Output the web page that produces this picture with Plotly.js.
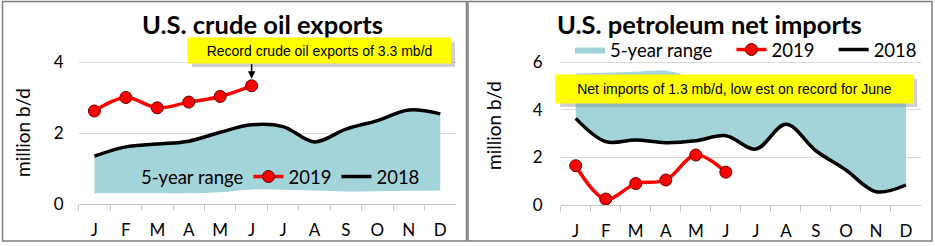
<!DOCTYPE html>
<html>
<head>
<meta charset="utf-8">
<script src="https://cdn.plot.ly/plotly-3.0.1.min.js"></script>
<style>html,body{margin:0;padding:0;background:#fff;}#chart{width:935px;height:246px;}</style>
</head>
<body>
<div id="chart"></div>
<script>
// ---- data ----
const months = ['Jan','Feb','Mar','Apr','May','Jun','Jul','Aug','Sep','Oct','Nov','Dec'];
const monthLabels = ['J','F','M','A','M','J','J','A','S','O','N','D'];
const months2019 = ['Jan','Feb','Mar','Apr','May','Jun'];

// U.S. crude oil exports (million b/d)
const exportsRangeLow = [0.30, 0.30, 0.30, 0.30, 0.33, 0.41, 0.40, 0.38, 0.35, 0.36, 0.37, 0.38];
const exportsRangeHigh = [1.35, 1.61, 1.69, 1.77, 2.02, 2.23, 2.18, 1.75, 2.11, 2.35, 2.65, 2.54];
const exports2018 = [1.35, 1.61, 1.69, 1.77, 2.02, 2.23, 2.18, 1.75, 2.11, 2.35, 2.65, 2.54];
const exports2019 = [2.62, 3.00, 2.71, 2.87, 3.03, 3.33];

// U.S. petroleum net imports (million b/d)
const importsRangeLow = [3.64, 2.66, 2.73, 2.62, 2.70, 2.91, 2.35, 3.39, 2.28, 1.47, 0.56, 0.84];
const importsRangeHigh = [5.53, 5.56, 5.60, 5.64, 5.35, 5.20, 5.10, 5.20, 5.00, 4.80, 4.60, 4.60];
const imports2018 = [3.64, 2.66, 2.73, 2.62, 2.70, 2.91, 2.35, 3.39, 2.28, 1.47, 0.56, 0.84];
const imports2019 = [1.65, 0.25, 0.90, 1.05, 2.10, 1.38];

const leftTitle = 'U.S. crude oil exports';
const rightTitle = 'U.S. petroleum net imports';
const yTitle = 'million b/d';
const leftNote = 'Record crude oil exports of 3.3 mb/d';
const rightNote = 'Net imports of 1.3 mb/d, low est on record for June';

// ---- style ----
const W = 935, H = 246;
const teal = '#a2d4d9';
const red = '#ff0000';
const FONT = 'Lato, "Open Sans", sans-serif';
const px = v => v / W;
const py = v => 1 - v / H;

const traces = [
  // left
  {x: months, y: exportsRangeLow, xaxis: 'x', yaxis: 'y', type: 'scatter', mode: 'lines',
   line: {width: 0, shape: 'spline'}, showlegend: false, hoverinfo: 'skip'},
  {x: months, y: exportsRangeHigh, xaxis: 'x', yaxis: 'y', type: 'scatter', mode: 'lines',
   name: '5-year range', fill: 'tonexty', fillcolor: teal, line: {width: 0, shape: 'spline', color: teal}, legend: 'legend'},
  {x: months2019, y: exports2019, xaxis: 'x', yaxis: 'y', type: 'scatter', mode: 'lines+markers',
   name: '2019', line: {color: red, width: 3.5, shape: 'spline'},
   marker: {color: red, size: 12, line: {color: '#600000', width: 1}}, legend: 'legend'},
  {x: months, y: exports2018, xaxis: 'x', yaxis: 'y', type: 'scatter', mode: 'lines',
   name: '2018', line: {color: '#000', width: 3.5, shape: 'spline'}, legend: 'legend'},
  // right
  {x: months, y: importsRangeLow, xaxis: 'x2', yaxis: 'y2', type: 'scatter', mode: 'lines',
   line: {width: 0, shape: 'spline'}, showlegend: false, hoverinfo: 'skip'},
  {x: months, y: importsRangeHigh, xaxis: 'x2', yaxis: 'y2', type: 'scatter', mode: 'lines',
   name: '5-year range\u00a0\u00a0\u00a0', fill: 'tonexty', fillcolor: teal, line: {width: 0, shape: 'spline', color: teal}, legend: 'legend2'},
  {x: months2019, y: imports2019, xaxis: 'x2', yaxis: 'y2', type: 'scatter', mode: 'lines+markers',
   name: '2019\u00a0\u00a0\u00a0', line: {color: red, width: 3.5, shape: 'spline'},
   marker: {color: red, size: 12, line: {color: '#600000', width: 1}}, legend: 'legend2'},
  {x: months, y: imports2018, xaxis: 'x2', yaxis: 'y2', type: 'scatter', mode: 'lines',
   name: '2018', line: {color: '#000', width: 3.5, shape: 'spline'}, legend: 'legend2'}
];

const xCommon = {
  type: 'category', categoryarray: months, categoryorder: 'array',
  tickvals: months, ticktext: monthLabels, range: [-0.5, 11.5], autorange: false,
  tickson: 'boundaries', ticks: 'outside', ticklen: 6, tickcolor: '#c8c8c8', tickwidth: 1,
  showline: true, linecolor: '#c8c8c8', linewidth: 1, showgrid: false, zeroline: false,
  tickfont: {family: FONT, size: 17, color: '#000'}, ticklabelstandoff: 11, fixedrange: true
};
const yCommon = {
  showline: false, ticks: '', gridcolor: '#d9d9d9', gridwidth: 1, zeroline: false,
  tickfont: {family: FONT, size: 17, color: '#000'}, fixedrange: true
};

const legendCommon = {
  orientation: 'h', bgcolor: 'rgba(0,0,0,0)', borderwidth: 0, traceorder: 'normal',
  font: {family: FONT, size: 18.5, color: '#000'}, xanchor: 'left', yanchor: 'middle',
  itemclick: false, itemdoubleclick: false, tracegroupgap: 0
};

const layout = {
  width: W, height: H, autosize: false,
  margin: {l: 0, r: 0, t: 0, b: 0},
  paper_bgcolor: '#fff', plot_bgcolor: 'rgba(0,0,0,0)',
  showlegend: true,
  xaxis: Object.assign({}, xCommon, {domain: [px(78.7), px(456)], anchor: 'y'}),
  yaxis: Object.assign({}, yCommon, {domain: [py(204), py(204 - 4.4 * 35.5)], range: [0, 4.4],
    tickvals: [0, 2, 4], ticklabelstandoff: 14, anchor: 'x'}),
  xaxis2: Object.assign({}, xCommon, {domain: [px(560.7), px(921)], anchor: 'y2'}),
  yaxis2: Object.assign({}, yCommon, {domain: [py(205), py(205 - 6.3 * 23.8)], range: [0, 6.3],
    tickvals: [0, 2, 4, 6], ticklabelstandoff: 17, anchor: 'x2'}),
  legend: Object.assign({}, legendCommon, {x: px(101), y: py(177)}),
  legend2: Object.assign({}, legendCommon, {x: px(570), y: py(50)}),
  shapes: [
    {type: 'rect', xref: 'paper', yref: 'paper', x0: px(2.5), x1: px(466.5), y0: py(241), y1: py(1.5),
     line: {color: '#7f7f7f', width: 1.5}, fillcolor: 'rgba(0,0,0,0)', layer: 'below'},
    {type: 'rect', xref: 'paper', yref: 'paper', x0: px(468), x1: px(932), y0: py(241), y1: py(1.5),
     line: {color: '#7f7f7f', width: 1.5}, fillcolor: 'rgba(0,0,0,0)', layer: 'below'},
    // annotation shadows
    {type: 'rect', xref: 'paper', yref: 'paper', x0: px(192), x1: px(455), y0: py(67), y1: py(42),
     line: {width: 0}, fillcolor: 'rgba(120,120,120,0.35)', layer: 'above'},
    {type: 'rect', xref: 'paper', yref: 'paper', x0: px(560), x1: px(917), y0: py(107), y1: py(79),
     line: {width: 0}, fillcolor: 'rgba(120,120,120,0.35)', layer: 'above'}
  ],
  annotations: [
    {text: '<b>' + leftTitle + '</b>', xref: 'paper', yref: 'paper', x: px(262), y: py(23.5),
     xanchor: 'center', yanchor: 'middle', showarrow: false, font: {family: FONT, size: 25.5, color: '#000'}},
    {text: '<b>' + rightTitle + '</b>', xref: 'paper', yref: 'paper', x: px(709), y: py(23.5),
     xanchor: 'center', yanchor: 'middle', showarrow: false, font: {family: FONT, size: 25.5, color: '#000'}},
    {text: yTitle, xref: 'paper', yref: 'paper', x: px(22), y: py(133), textangle: -90,
     xanchor: 'center', yanchor: 'middle', showarrow: false, font: {family: FONT, size: 19, color: '#000'}},
    {text: yTitle, xref: 'paper', yref: 'paper', x: px(493), y: py(125), textangle: -90,
     xanchor: 'center', yanchor: 'middle', showarrow: false, font: {family: FONT, size: 19, color: '#000'}},
    {text: leftNote, xref: 'paper', yref: 'paper', x: px(319.5), y: py(50.5),
     xanchor: 'center', yanchor: 'middle', showarrow: false, bgcolor: '#ffff00', borderpad: 0,
     width: 263, height: 25, font: {family: '"Liberation Sans", Arial, sans-serif', size: 14, color: '#000'}},
    {text: '', xref: 'x', yref: 'y', x: months2019[5], y: exports2019[5], showarrow: true,
     ax: 0, ay: -23, arrowhead: 2, arrowsize: 1, arrowwidth: 1.5, arrowcolor: '#000', standoff: 7},
    {text: rightNote, xref: 'paper', yref: 'paper', x: px(734.5), y: py(89),
     xanchor: 'center', yanchor: 'middle', showarrow: false, bgcolor: '#ffff00', borderpad: 0,
     width: 357, height: 28, font: {family: '"Liberation Sans", Arial, sans-serif', size: 14, color: '#000'}}
  ]
};

Plotly.newPlot('chart', traces, layout, {displayModeBar: false, staticPlot: true});
</script>
</body>
</html>
